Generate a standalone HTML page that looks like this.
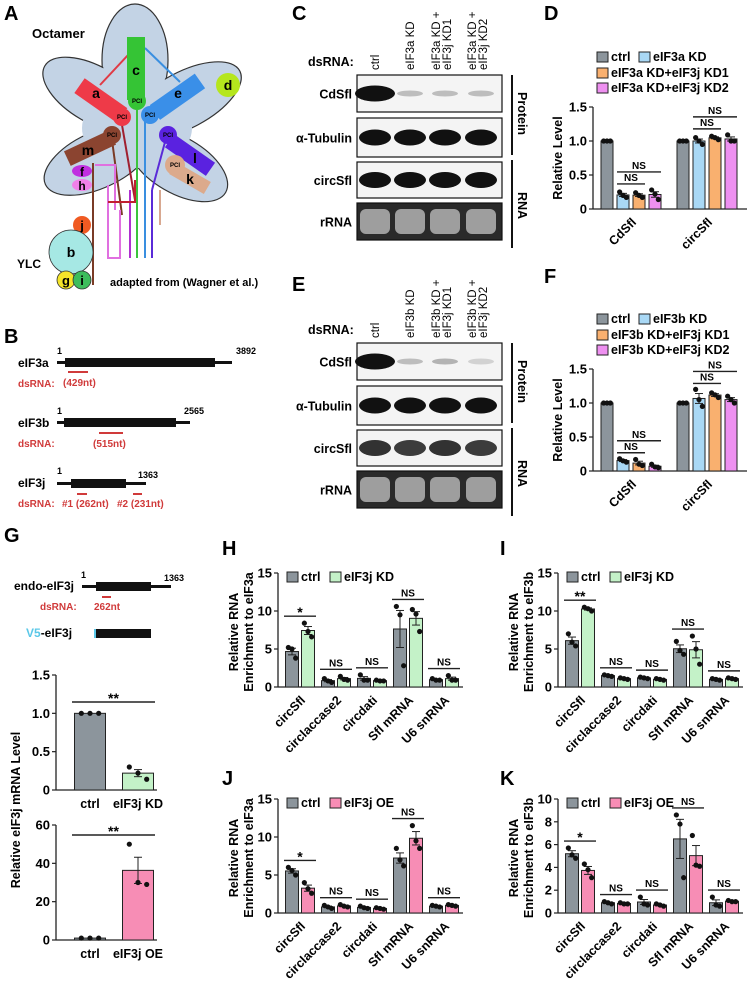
<!DOCTYPE html>
<html><head><meta charset="utf-8">
<style>
html,body{margin:0;padding:0;background:#fff;}
svg{display:block;font-family:"Liberation Sans",Arial,sans-serif;}
.pl{font-size:20px;font-weight:bold;}
.b{font-weight:bold;}
</style></head>
<body>
<svg id="fig" width="748" height="981" viewBox="0 0 748 981" xmlns="http://www.w3.org/2000/svg">
<g>
<text class="pl" x="4" y="20">A</text>
<text class="pl" x="292" y="20">C</text>
<text class="pl" x="544" y="20">D</text>
<text class="pl" x="4" y="343">B</text>
<text class="pl" x="292" y="291">E</text>
<text class="pl" x="544" y="283">F</text>
<text class="pl" x="4" y="542">G</text>
<text class="pl" x="222" y="555">H</text>
<text class="pl" x="500" y="555">I</text>
<text class="pl" x="222" y="785">J</text>
<text class="pl" x="500" y="785">K</text>
</g>

<g>
<g stroke="#333" stroke-width="1.2" fill="#c3d3e5">
<ellipse cx="135" cy="60" rx="33" ry="56"/>
<ellipse cx="95" cy="95" rx="58" ry="28" transform="rotate(30 95 95)"/>
<ellipse cx="185" cy="100" rx="62" ry="28" transform="rotate(-28 185 100)"/>
<ellipse cx="98" cy="160" rx="58" ry="28" transform="rotate(-25 98 160)"/>
<ellipse cx="178" cy="165" rx="55" ry="28" transform="rotate(30 178 165)"/>
</g>
<g fill="#c3d3e5">
<ellipse cx="135" cy="60" rx="32" ry="55"/>
<ellipse cx="95" cy="95" rx="57" ry="27" transform="rotate(30 95 95)"/>
<ellipse cx="185" cy="100" rx="61" ry="27" transform="rotate(-28 185 100)"/>
<ellipse cx="98" cy="160" rx="57" ry="27" transform="rotate(-25 98 160)"/>
<ellipse cx="178" cy="165" rx="54" ry="27" transform="rotate(30 178 165)"/>
<ellipse cx="137" cy="128" rx="55" ry="40"/>
</g>
<text x="32" y="38" class="b" font-size="13">Octamer</text>
<g stroke-width="2" fill="none">
<line x1="128" y1="55" x2="100" y2="85" stroke="#e03a45"/>
<line x1="145" y1="48" x2="180" y2="82" stroke="#3a8fe0"/>
<line x1="137" y1="110" x2="137" y2="258" stroke="#3cc43c"/>
<line x1="145" y1="120" x2="145" y2="258" stroke="#3a8fe0"/>
<line x1="122" y1="125" x2="135" y2="200" stroke="#a02030"/>
<line x1="165" y1="142" x2="152" y2="190" stroke="#5a2bd8"/>
<line x1="152" y1="190" x2="152" y2="258" stroke="#5a2bd8"/>
<line x1="130" y1="190" x2="130" y2="258" stroke="#b030d0"/>
<line x1="160" y1="190" x2="160" y2="225" stroke="#d8a890"/>
<line x1="112" y1="140" x2="122" y2="215" stroke="#7a3b26"/>
<line x1="93" y1="163" x2="93" y2="285" stroke="#7a3b26"/>
<path d="M95 165 L115 165 L115 210 M108 185 L108 258 L120 258 L120 210" stroke="#e070e0"/>
<path d="M108 202 L135 202 L135 180" stroke="#c02030"/>
</g>
<rect x="127" y="37" width="18" height="63" fill="#35c435"/>
<text x="136" y="75" text-anchor="middle" class="b" font-size="14">c</text>
<circle cx="137" cy="101" r="9" fill="#35c435"/>
<rect x="75" y="91" width="52" height="18" fill="#ee3a48" transform="rotate(35 100 100)"/>
<text x="96" y="98" text-anchor="middle" class="b" font-size="14">a</text>
<circle cx="122" cy="117" r="9" fill="#ee3a48"/>
<rect x="150" y="88" width="55" height="18" fill="#3a8fe8" transform="rotate(-35 177 97)"/>
<text x="178" y="98" text-anchor="middle" class="b" font-size="14">e</text>
<circle cx="150" cy="115" r="9" fill="#3a8fe8"/>
<rect x="65" y="140" width="50" height="16" fill="#8b4430" transform="rotate(-25 90 148)"/>
<text x="88" y="155" text-anchor="middle" class="b" font-size="14">m</text>
<circle cx="112" cy="135" r="9" fill="#8b4430"/>
<rect x="165" y="147" width="50" height="16" fill="#5a22e0" transform="rotate(35 190 155)"/>
<text x="195" y="163" text-anchor="middle" class="b" font-size="14">l</text>
<circle cx="168" cy="135" r="9" fill="#5a22e0"/>
<rect x="170" y="171" width="40" height="14" fill="#dcaa8c" transform="rotate(30 190 178)"/>
<text x="190" y="184" text-anchor="middle" class="b" font-size="14">k</text>
<circle cx="175" cy="165" r="10" fill="#dcaa8c"/>
<g font-size="6" text-anchor="middle" class="b">
<text x="137" y="103">PCI</text><text x="122" y="119">PCI</text><text x="150" y="117">PCI</text>
<text x="112" y="137">PCI</text><text x="168" y="137">PCI</text><text x="175" y="167">PCI</text>
</g>
<ellipse cx="82" cy="171" rx="10" ry="6" fill="#c030e0"/>
<text x="82" y="176" text-anchor="middle" class="b" font-size="12">f</text>
<ellipse cx="82" cy="185" rx="10" ry="6" fill="#f080e8"/>
<text x="82" y="190" text-anchor="middle" class="b" font-size="12">h</text>
<circle cx="228" cy="85" r="12" fill="#b5e61d"/>
<text x="228" y="90" text-anchor="middle" class="b" font-size="14">d</text>
<circle cx="82" cy="225" r="9" fill="#f05a22"/>
<text x="82" y="230" text-anchor="middle" class="b" font-size="13">j</text>
<circle cx="71" cy="252" r="22" fill="#a6e8e4" stroke="#333" stroke-width="0.8"/>
<text x="71" y="257" text-anchor="middle" class="b" font-size="14">b</text>
<circle cx="66" cy="280" r="9" fill="#f5e52a" stroke="#333" stroke-width="0.8"/>
<text x="66" y="285" text-anchor="middle" class="b" font-size="13">g</text>
<circle cx="82" cy="280" r="9" fill="#3dbd5c" stroke="#333" stroke-width="0.8"/>
<text x="82" y="285" text-anchor="middle" class="b" font-size="13">i</text>
<text x="17" y="268" class="b" font-size="12">YLC</text>
<text x="110" y="286" class="b" font-size="11">adapted from (Wagner et al.)</text>
</g>

<g font-weight="bold">
<text x="18" y="367" font-size="12">eIF3a</text>
<text x="57" y="354" font-size="9">1</text>
<rect x="57" y="361" width="175" height="3" fill="#111"/>
<rect x="65" y="358" width="150" height="9" fill="#111"/>
<text x="236" y="354" font-size="9">3892</text>
<text x="18" y="387" font-size="10" fill="#d03a3a">dsRNA:</text>
<line x1="68" y1="372" x2="88" y2="372" stroke="#d03a3a" stroke-width="2"/>
<text x="63" y="386" font-size="10" fill="#d03a3a">(429nt)</text>

<text x="18" y="427" font-size="12">eIF3b</text>
<text x="57" y="414" font-size="9">1</text>
<rect x="57" y="421" width="133" height="3" fill="#111"/>
<rect x="64" y="418" width="112" height="9" fill="#111"/>
<text x="184" y="414" font-size="9">2565</text>
<text x="18" y="447" font-size="10" fill="#d03a3a">dsRNA:</text>
<line x1="99" y1="433" x2="123" y2="433" stroke="#d03a3a" stroke-width="2"/>
<text x="93" y="447" font-size="10" fill="#d03a3a">(515nt)</text>

<text x="18" y="487" font-size="12">eIF3j</text>
<text x="57" y="474" font-size="9">1</text>
<rect x="57" y="482" width="89" height="3" fill="#111"/>
<rect x="71" y="479" width="55" height="9" fill="#111"/>
<text x="138" y="478" font-size="9">1363</text>
<text x="18" y="507" font-size="10" fill="#d03a3a">dsRNA:</text>
<line x1="77" y1="494" x2="87" y2="494" stroke="#d03a3a" stroke-width="2"/>
<line x1="133" y1="494" x2="142" y2="494" stroke="#d03a3a" stroke-width="2"/>
<text x="62" y="507" font-size="10" fill="#d03a3a">#1 (262nt)</text>
<text x="117" y="507" font-size="10" fill="#d03a3a">#2 (231nt)</text>

<text x="14" y="590" font-size="12">endo-eIF3j</text>
<text x="81" y="578" font-size="9">1</text>
<rect x="82" y="585" width="89" height="3" fill="#111"/>
<rect x="96" y="582" width="55" height="9" fill="#111"/>
<text x="164" y="581" font-size="9">1363</text>
<text x="40" y="610" font-size="10" fill="#d03a3a">dsRNA:</text>
<line x1="102" y1="597" x2="111" y2="597" stroke="#d03a3a" stroke-width="2"/>
<text x="94" y="610" font-size="10" fill="#d03a3a">262nt</text>
<text x="26" y="637" font-size="12"><tspan fill="#5bc8e8">V5</tspan>-eIF3j</text>
<rect x="94" y="629" width="2" height="9" fill="#5bc8e8"/>
<rect x="96" y="629" width="55" height="9" fill="#111"/>
</g>

<g id="blots"></g>
<g id="charts"></g>
</svg>

<script>
const dCats = ['CdSfl','circSfl'];
const dCtrl = [[1,1,1],[1,1,1]];
const dKD = [[0.25,0.2,0.17],[1.05,1.0,0.95]];
const dKD1 = [[0.24,0.2,0.17],[1.07,1.05,1.02]];
const dKD2 = [[0.28,0.22,0.14],[1.09,1.0,1.0]];
const fCtrl = [[1,1,1],[1,1,1]];
const fKD = [[0.18,0.15,0.13],[1.2,1.05,0.95]];
const fKD1 = [[0.17,0.1,0.08],[1.15,1.12,1.08]];
const fKD2 = [[0.1,0.06,0.05],[1.1,1.05,1.0]];
const dfTicks = [0,0.5,1.0,1.5];
const dfTickLabels = ['0','0.5','1.0','1.5'];

const gCats = ['ctrl','eIF3j KD'];
const g1Reps = [[1,1,1],[0.3,0.22,0.14]];
const g1Ticks = [0,0.5,1.0,1.5];
const g1TickLabels = ['0','0.5','1.0','1.5'];
const gCats2 = ['ctrl','eIF3j OE'];
const g2Reps = [[1,1,1],[50,30,29]];
const g2Ticks = [0,20,40,60];
const g2TickLabels = ['0','20','40','60'];

const rnaCats = ['circSfl','circlaccase2','circdati','Sfl mRNA','U6 snRNA'];
const hCtrl = [[5.2,5.0,3.8],[1.1,0.8,0.6],[1.6,0.9,0.9],[10.6,9.5,2.8],[1.1,0.9,0.9]];
const hKD = [[8.4,7.3,6.6],[1.4,1.0,0.9],[0.9,0.8,0.8],[10.2,9.6,7.3],[1.5,0.9,0.9]];
const hSig = ['*','NS','NS','NS','NS'];
const iCtrl = [[7.0,5.9,5.4],[1.6,1.5,1.4],[1.3,1.2,1.1],[6.0,4.8,4.3],[1.1,1.0,0.9]];
const iKD = [[10.5,10.3,10.0],[1.2,1.1,1.0],[1.1,1.0,0.9],[6.7,5.0,3.0],[1.2,1.1,1.0]];
const iSig = ['**','NS','NS','NS','NS'];
const jCtrl = [[6.0,5.6,5.0],[1.0,0.8,0.6],[0.9,0.7,0.6],[8.5,7.0,6.2],[1.0,0.9,0.8]];
const jOE = [[4.0,3.2,2.6],[1.1,0.9,0.8],[0.7,0.6,0.5],[11.5,9.5,8.5],[1.1,1.0,0.9]];
const jSig = ['*','NS','NS','NS','NS'];
const kCtrl = [[5.7,5.1,4.8],[1.0,0.9,0.8],[1.4,0.8,0.7],[8.6,7.8,3.1],[1.4,0.7,0.6]];
const kOE = [[4.3,3.8,3.1],[0.9,0.8,0.8],[0.8,0.7,0.6],[6.8,4.2,4.1],[1.1,1.0,1.0]];
const kSig = ['*','NS','NS','NS','NS'];
const ticks15 = [0,5,10,15];
const ticks15Labels = ['0','5','10','15'];
const ticks10 = [0,2,4,6,8,10];
const ticks10Labels = ['0','2','4','6','8','10'];

const NS = 'http://www.w3.org/2000/svg';
const root = document.getElementById('charts');
function mk(tag, attrs, parent, txt){
  const e = document.createElementNS(NS, tag);
  for (const k in attrs) e.setAttribute(k, attrs[k]);
  if (txt !== undefined) e.textContent = txt;
  (parent || root).appendChild(e);
  return e;
}
function mean(a){return a.reduce((s,v)=>s+v,0)/a.length;}
function sem(a){const m=mean(a);const v=a.reduce((s,x)=>s+(x-m)*(x-m),0)/(a.length-1);return Math.sqrt(v/a.length);}

function axes(g, o){
  const ys = v => o.y0 - (v/o.max)*(o.y0-o.yTop);
  const ya = mk('line',{x1:o.x0,y1:o.yTop,x2:o.x0,y2:o.y0,stroke:'#222','stroke-width':1.3},g);
  
  
  const xa = mk('line',{x1:o.x0,y1:o.y0,x2:o.x1,y2:o.y0,stroke:'#222','stroke-width':1.3},g);
  
  
  o.ticks.forEach((t,i)=>{
    const y = ys(t);
    mk('line',{x1:o.x0-4,y1:y,x2:o.x0,y2:y,stroke:'#222','stroke-width':1.2},g);
    const tl = mk('text',{x:o.x0-6,y:y+4.5,'text-anchor':'end','font-size':13,'font-weight':'bold'},g,o.tickLabels[i]);
    
    
  });
  return ys;
}
function barWithDots(g, cx, w, reps, ys, color, y0){
  const m = mean(reps), s = sem(reps);
  const r = mk('rect',{x:cx-w/2,y:ys(m),width:w,height:y0-ys(m),fill:color,stroke:'#222','stroke-width':1},g);
  
  
  if (s>0){
    mk('line',{x1:cx,y1:ys(m+s),x2:cx,y2:ys(m-s),stroke:'#222','stroke-width':1},g);
    mk('line',{x1:cx-4,y1:ys(m+s),x2:cx+4,y2:ys(m+s),stroke:'#222','stroke-width':1},g);
    mk('line',{x1:cx-4,y1:ys(m-s),x2:cx+4,y2:ys(m-s),stroke:'#222','stroke-width':1},g);
  }
  reps.forEach((v,k)=>{
    const d = mk('circle',{cx:cx+(k-1)*w*0.28,cy:ys(v),r:2.6,fill:'#111'},g);
    
    
  });
}
function legendItem(g,x,y,color,label){
  const r = mk('rect',{x:x,y:y-9,width:11,height:10,fill:color,stroke:'#222','stroke-width':1},g);
  
  
  const t = mk('text',{x:x+14,y:y,'font-size':12.5,'font-weight':'bold'},g,label);
  
  
}
function ylabel(g,x,y,txt,fs){
  const t = mk('text',{x:x,y:y,'text-anchor':'middle','font-size':fs||12,'font-weight':'bold',transform:`rotate(-90 ${x} ${y})`},g,txt);
  
  
}
function xcat(g,x,y,txt){
  const t = mk('text',{x:x,y:y,'text-anchor':'end','font-size':12.5,'font-weight':'bold',transform:`rotate(-45 ${x} ${y})`},g,txt);
  
  
}
function sigLine(g,xa,xb,y,label){
  mk('line',{x1:xa,y1:y,x2:xb,y2:y,stroke:'#222','stroke-width':1.4},g);
  const t = mk('text',{x:(xa+xb)/2,y:label.indexOf('*')>=0?y+1:y-3,'text-anchor':'middle','font-size':label.indexOf('*')>=0?14:10,'font-weight':'bold'},g,label);
  
  
}

function fourBar(name, y0, yTop, ctrl, kd, kd1, kd2, kdName){
  const g = mk('g',{});
  
  
  const o = {x0:593,x1:747,y0:y0,yTop:yTop,max:1.5,ticks:dfTicks,tickLabels:dfTickLabels};
  const ys = axes(g,o);
  const centers = [631,707], offs=[-24,-8,8,24];
  const cols = ['#8c959c','#a9d8f5','#f9b06f','#ee90f0'];
  const sers = [ctrl,kd,kd1,kd2];
  dCats.forEach((c,i)=>{
    sers.forEach((s,j)=> barWithDots(g,centers[i]+offs[j],12,s[i],ys,cols[j],y0));
    xcat(g,centers[i]+6,y0+14,c);
    const mx = Math.max(...kd[i],...kd1[i],...kd2[i]);
    const lo = ys(mx)-6;
    sigLine(g,centers[i]+offs[1]-6,centers[i]+offs[2]+6,lo,'NS');
    sigLine(g,centers[i]+offs[1]-6,centers[i]+offs[3]+6,lo-12,'NS');
  });
  ylabel(g,562,(y0+yTop)/2,'Relative Level',12.5);
  const ly = yTop-46;
  legendItem(g,597,ly,cols[0],'ctrl');
  legendItem(g,639,ly,cols[1],kdName+' KD');
  legendItem(g,597,ly+16,cols[2],kdName+' KD+eIF3j KD1');
  legendItem(g,597,ly+31,cols[3],kdName+' KD+eIF3j KD2');
}
fourBar('chart-d',209,107,dCtrl,dKD,dKD1,dKD2,'eIF3a');
fourBar('chart-f',471,369,fCtrl,fKD,fKD1,fKD2,'eIF3b');

function twoBar(name,y0,yTop,max,ticks,tl,reps,cats,colB,sigY){
  const g = mk('g',{});
  
  
  const o={x0:56,x1:157,y0:y0,yTop:yTop,max:max,ticks:ticks,tickLabels:tl};
  const ys = axes(g,o);
  const centers=[90,138], cols=['#8c959c',colB];
  reps.forEach((r,i)=>{
    barWithDots(g,centers[i],31,r,ys,cols[i],y0);
    const t = mk('text',{x:centers[i],y:y0+18,'text-anchor':'middle','font-size':12.5,'font-weight':'bold'},g,cats[i]);
    
    
  });
  sigLine(g,72,155,sigY,'**');
}
twoBar('chart-g-kd',790,675,1.5,g1Ticks,g1TickLabels,g1Reps,gCats,'#c4f2c8',702);
twoBar('chart-g-oe',940,825,60,g2Ticks,g2TickLabels,g2Reps,gCats2,'#f78db5',835);
ylabel(root,20,810,'Relative eIF3j mRNA Level',12.5);

function rnaChart(name,x0,y0,yTop,max,ticks,tl,ctrl,trt,trtName,trtCol,sig,target){
  const g = mk('g',{});
  
  
  const o={x0:x0,x1:x0+185,y0:y0,yTop:yTop,max:max,ticks:ticks,tickLabels:tl};
  const ys = axes(g,o);
  rnaCats.forEach((c,i)=>{
    const cx = x0+22+i*36;
    barWithDots(g,cx-8,13,ctrl[i],ys,'#8c959c',y0);
    barWithDots(g,cx+8,13,trt[i],ys,trtCol,y0);
    xcat(g,cx+6,y0+14,c);
    const mx = Math.max(...ctrl[i],...trt[i]);
    sigLine(g,cx-16,cx+16,ys(mx)-7,sig[i]);
  });
  legendItem(g,x0+9,yTop+8,'#8c959c','ctrl');
  legendItem(g,x0+52,yTop+8,trtCol,trtName);
  ylabel(g,x0-40,(y0+yTop)/2+2,'Relative RNA',12.5);
  ylabel(g,x0-25,(y0+yTop)/2+2,'Enrichment to '+target,12.5);
}
rnaChart('chart-h',278,687,573,15,ticks15,ticks15Labels,hCtrl,hKD,'eIF3j KD','#c4f2c8',hSig,'eIF3a');
rnaChart('chart-i',558,687,573,15,ticks15,ticks15Labels,iCtrl,iKD,'eIF3j KD','#c4f2c8',iSig,'eIF3b');
rnaChart('chart-j',278,913,799,15,ticks15,ticks15Labels,jCtrl,jOE,'eIF3j OE','#f78db5',jSig,'eIF3a');
rnaChart('chart-k',558,913,799,10,ticks10,ticks10Labels,kCtrl,kOE,'eIF3j OE','#f78db5',kSig,'eIF3b');

const broot = document.getElementById('blots');
const lanesX = [375,410,445,481];
function blot(dy, kd){
  const g = mk('g',{},broot);
  
  
  mk('text',{x:308,y:66+dy,'font-size':12.5,'font-weight':'bold'},g,'dsRNA:');
  const labs = [['ctrl'],[kd+' KD'],[kd+' KD +','eIF3j KD1'],[kd+' KD +','eIF3j KD2']];
  labs.forEach((l,i)=>{
    l.forEach((s,k)=>{
      const x = lanesX[i] + (l.length===2 ? (k===0?-5:6) : 4);
      const t = mk('text',{x:x,y:70+dy,'font-size':11.5,transform:`rotate(-90 ${x} ${70+dy})`},g,s);
      
      
    });
  });
  const rows = [['CdSfl',75,37],['α-Tubulin',118,39],['circSfl',162,36],['rRNA',203,37]];
  const inten = kd==='eIF3a' ? [[1,0.2,0.2,0.2],[1,1,1,1],[1,1,1,1]] : [[1,0.2,0.25,0.1],[1,1,1,1],[0.85,0.8,0.85,0.8]];
  rows.forEach((r,ri)=>{
    const y=r[1]+dy;
    const lab = mk('text',{x:352,y:y+r[2]/2+5,'text-anchor':'end','font-size':12.5,'font-weight':'bold'},g,r[0]);
    
    
    const dark = ri===3;
    const box = mk('rect',{x:357,y:y,width:145,height:r[2],fill:dark?'#2a2a2a':'#f4f4f4',stroke:'#111','stroke-width':1.2},g);
    
    
    lanesX.forEach((x,li)=>{
      if(dark){
        mk('rect',{x:x-15,y:y+6,width:30,height:r[2]-12,rx:6,fill:'#bcbcbc',opacity:0.8},g);
      } else {
        const a = inten[ri][li];
        mk('ellipse',{cx:x,cy:y+r[2]/2,rx:a>0.5?(ri===0&&li===0?20:16):13,ry:a>0.5?8:3,fill:'#111',opacity:Math.min(1,a*0.95+0.05)},g);
      }
    });
  });
  mk('line',{x1:512,y1:75+dy,x2:512,y2:155+dy,stroke:'#111','stroke-width':2},g);
  mk('line',{x1:512,y1:160+dy,x2:512,y2:248+dy,stroke:'#111','stroke-width':2},g);
  mk('text',{x:518,y:92+dy,'font-size':12.5,'font-weight':'bold',transform:`rotate(90 518 ${92+dy})`},g,'Protein');
  mk('text',{x:518,y:192+dy,'font-size':12.5,'font-weight':'bold',transform:`rotate(90 518 ${192+dy})`},g,'RNA');
}
blot(0,'eIF3a');
blot(268,'eIF3b');
</script>
</body></html>
